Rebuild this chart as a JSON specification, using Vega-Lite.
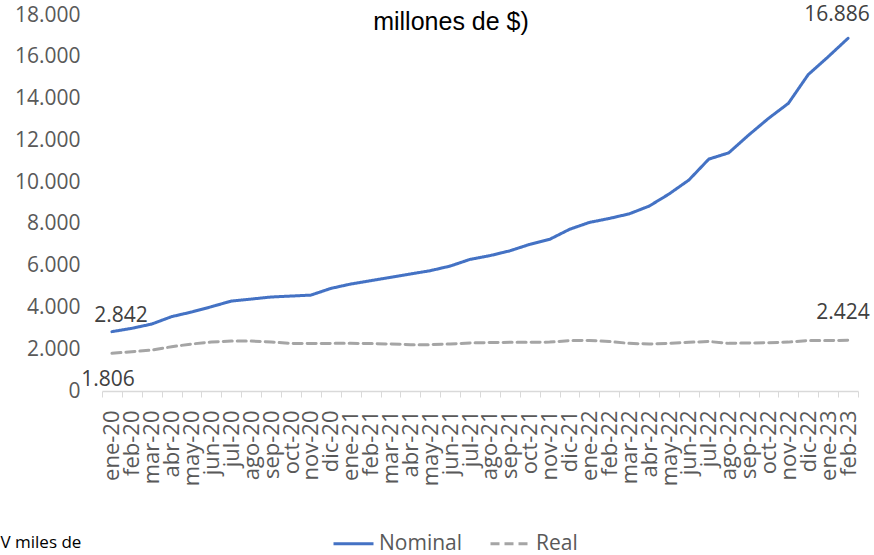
{
  "$schema": "https://vega.github.io/schema/vega-lite/v6.json",
  "width": 756,
  "height": 376,
  "autosize": "none",
  "padding": {"left": 102, "top": 15, "right": 16, "bottom": 164},
  "title": {
    "text": "millones de $)",
    "anchor": "middle",
    "frame": "group",
    "dx": -29,
    "offset": -31,
    "font": "Liberation Sans",
    "fontSize": 25,
    "fontWeight": "normal",
    "color": "#000000"
  },
  "config": {
    "view": {"stroke": null},
    "locale": {
      "number": {"decimal": ",", "thousands": ".", "grouping": [3], "currency": ["", " $"]}
    }
  },
  "data": {
    "values": [
      {"mes": "ene-20", "serie": "Nominal", "valor": 2842},
      {"mes": "feb-20", "serie": "Nominal", "valor": 3000},
      {"mes": "mar-20", "serie": "Nominal", "valor": 3205},
      {"mes": "abr-20", "serie": "Nominal", "valor": 3560},
      {"mes": "may-20", "serie": "Nominal", "valor": 3780},
      {"mes": "jun-20", "serie": "Nominal", "valor": 4035},
      {"mes": "jul-20", "serie": "Nominal", "valor": 4305},
      {"mes": "ago-20", "serie": "Nominal", "valor": 4400},
      {"mes": "sep-20", "serie": "Nominal", "valor": 4500},
      {"mes": "oct-20", "serie": "Nominal", "valor": 4545},
      {"mes": "nov-20", "serie": "Nominal", "valor": 4590},
      {"mes": "dic-20", "serie": "Nominal", "valor": 4910},
      {"mes": "ene-21", "serie": "Nominal", "valor": 5120},
      {"mes": "feb-21", "serie": "Nominal", "valor": 5280},
      {"mes": "mar-21", "serie": "Nominal", "valor": 5440},
      {"mes": "abr-21", "serie": "Nominal", "valor": 5600},
      {"mes": "may-21", "serie": "Nominal", "valor": 5760},
      {"mes": "jun-21", "serie": "Nominal", "valor": 5980},
      {"mes": "jul-21", "serie": "Nominal", "valor": 6300},
      {"mes": "ago-21", "serie": "Nominal", "valor": 6480},
      {"mes": "sep-21", "serie": "Nominal", "valor": 6710},
      {"mes": "oct-21", "serie": "Nominal", "valor": 7020},
      {"mes": "nov-21", "serie": "Nominal", "valor": 7260},
      {"mes": "dic-21", "serie": "Nominal", "valor": 7740},
      {"mes": "ene-22", "serie": "Nominal", "valor": 8070},
      {"mes": "feb-22", "serie": "Nominal", "valor": 8260},
      {"mes": "mar-22", "serie": "Nominal", "valor": 8480},
      {"mes": "abr-22", "serie": "Nominal", "valor": 8850},
      {"mes": "may-22", "serie": "Nominal", "valor": 9430},
      {"mes": "jun-22", "serie": "Nominal", "valor": 10100},
      {"mes": "jul-22", "serie": "Nominal", "valor": 11100},
      {"mes": "ago-22", "serie": "Nominal", "valor": 11400},
      {"mes": "sep-22", "serie": "Nominal", "valor": 12250},
      {"mes": "oct-22", "serie": "Nominal", "valor": 13050},
      {"mes": "nov-22", "serie": "Nominal", "valor": 13770},
      {"mes": "dic-22", "serie": "Nominal", "valor": 15150},
      {"mes": "ene-23", "serie": "Nominal", "valor": 16000},
      {"mes": "feb-23", "serie": "Nominal", "valor": 16886},
      {"mes": "ene-20", "serie": "Real", "valor": 1806},
      {"mes": "feb-20", "serie": "Real", "valor": 1880},
      {"mes": "mar-20", "serie": "Real", "valor": 1960},
      {"mes": "abr-20", "serie": "Real", "valor": 2120},
      {"mes": "may-20", "serie": "Real", "valor": 2250},
      {"mes": "jun-20", "serie": "Real", "valor": 2345},
      {"mes": "jul-20", "serie": "Real", "valor": 2390},
      {"mes": "ago-20", "serie": "Real", "valor": 2390},
      {"mes": "sep-20", "serie": "Real", "valor": 2345},
      {"mes": "oct-20", "serie": "Real", "valor": 2280},
      {"mes": "nov-20", "serie": "Real", "valor": 2270},
      {"mes": "dic-20", "serie": "Real", "valor": 2280},
      {"mes": "ene-21", "serie": "Real", "valor": 2280},
      {"mes": "feb-21", "serie": "Real", "valor": 2270},
      {"mes": "mar-21", "serie": "Real", "valor": 2250},
      {"mes": "abr-21", "serie": "Real", "valor": 2220},
      {"mes": "may-21", "serie": "Real", "valor": 2220},
      {"mes": "jun-21", "serie": "Real", "valor": 2250},
      {"mes": "jul-21", "serie": "Real", "valor": 2300},
      {"mes": "ago-21", "serie": "Real", "valor": 2320},
      {"mes": "sep-21", "serie": "Real", "valor": 2330},
      {"mes": "oct-21", "serie": "Real", "valor": 2330},
      {"mes": "nov-21", "serie": "Real", "valor": 2340},
      {"mes": "dic-21", "serie": "Real", "valor": 2410},
      {"mes": "ene-22", "serie": "Real", "valor": 2420},
      {"mes": "feb-22", "serie": "Real", "valor": 2370},
      {"mes": "mar-22", "serie": "Real", "valor": 2280},
      {"mes": "abr-22", "serie": "Real", "valor": 2250},
      {"mes": "may-22", "serie": "Real", "valor": 2280},
      {"mes": "jun-22", "serie": "Real", "valor": 2330},
      {"mes": "jul-22", "serie": "Real", "valor": 2370},
      {"mes": "ago-22", "serie": "Real", "valor": 2280},
      {"mes": "sep-22", "serie": "Real", "valor": 2300},
      {"mes": "oct-22", "serie": "Real", "valor": 2310},
      {"mes": "nov-22", "serie": "Real", "valor": 2340},
      {"mes": "dic-22", "serie": "Real", "valor": 2420},
      {"mes": "ene-23", "serie": "Real", "valor": 2420},
      {"mes": "feb-23", "serie": "Real", "valor": 2424}
    ]
  },
  "encoding": {
    "x": {
      "field": "mes",
      "type": "nominal",
      "sort": null,
      "scale": {"type": "band", "paddingInner": 0, "paddingOuter": 0},
      "axis": {
        "title": "V miles de",
        "titleFont": "Open Sans",
        "titleFontSize": 17,
        "titleFontWeight": "normal",
        "titleColor": "#000000",
        "titleAnchor": "start",
        "titleAlign": "left",
        "titleBaseline": "top",
        "titleX": -102,
        "titleY": 143,
        "labelAngle": -90,
        "labelFont": "Open Sans",
        "labelFontSize": 22,
        "labelColor": "#595959",
        "labelPadding": 13,
        "labelOverlap": false,
        "labelBound": false,
        "tickBand": "extent",
        "tickSize": 6,
        "tickColor": "#D9D9D9",
        "domainColor": "#D9D9D9",
        "domainWidth": 1.5,
        "grid": false
      }
    },
    "y": {
      "field": "valor",
      "type": "quantitative",
      "scale": {"domain": [0, 18000], "nice": false},
      "axis": {
        "title": null,
        "values": [0, 2000, 4000, 6000, 8000, 10000, 12000, 14000, 16000, 18000],
        "format": ",d",
        "labelFont": "Open Sans",
        "labelFontSize": 21,
        "labelColor": "#595959",
        "labelPadding": 22,
        "ticks": false,
        "domain": false,
        "grid": false
      }
    }
  },
  "layer": [
    {
      "mark": {"type": "line", "strokeWidth": 3, "strokeCap": "round"},
      "encoding": {
        "color": {
          "field": "serie",
          "type": "nominal",
          "scale": {"domain": ["Nominal", "Real"], "range": ["#4472C4", "#A5A5A5"]},
          "legend": {
            "title": null,
            "orient": "none",
            "direction": "horizontal",
            "legendX": 230,
            "legendY": 507,
            "symbolType": "stroke",
            "symbolSize": 1600,
            "symbolStrokeWidth": 3,
            "labelFont": "Open Sans",
            "labelFontSize": 21,
            "labelColor": "#595959",
            "labelOffset": 4,
            "columnPadding": 21
          }
        },
        "strokeDash": {
          "field": "serie",
          "type": "nominal",
          "scale": {"domain": ["Nominal", "Real"], "range": [[1, 0], [9, 5]]},
          "legend": null
        }
      }
    },
    {
      "transform": [{"filter": "datum.serie == 'Nominal' && datum.mes == 'ene-20'"}],
      "mark": {"type": "text", "font": "Open Sans", "fontSize": 21, "color": "#404040", "dx": 9, "dy": -16},
      "encoding": {"text": {"field": "valor", "type": "quantitative", "format": ",d"}}
    },
    {
      "transform": [{"filter": "datum.serie == 'Real' && datum.mes == 'ene-20'"}],
      "mark": {"type": "text", "font": "Open Sans", "fontSize": 21, "color": "#404040", "dx": -4, "dy": 27},
      "encoding": {"text": {"field": "valor", "type": "quantitative", "format": ",d"}}
    },
    {
      "transform": [{"filter": "datum.serie == 'Nominal' && datum.mes == 'feb-23'"}],
      "mark": {"type": "text", "font": "Open Sans", "fontSize": 21, "color": "#404040", "dx": -11, "dy": -23},
      "encoding": {"text": {"field": "valor", "type": "quantitative", "format": ",d"}}
    },
    {
      "transform": [{"filter": "datum.serie == 'Real' && datum.mes == 'feb-23'"}],
      "mark": {"type": "text", "font": "Open Sans", "fontSize": 21, "color": "#404040", "dx": -5, "dy": -27},
      "encoding": {"text": {"field": "valor", "type": "quantitative", "format": ",d"}}
    }
  ]
}
